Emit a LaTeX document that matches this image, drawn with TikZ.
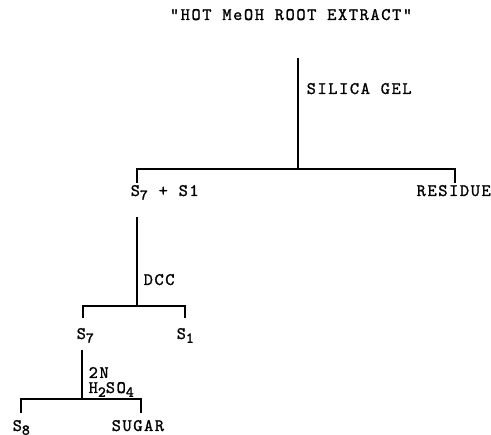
\documentclass[tikz,border=0pt]{standalone}
\usepackage{fontspec}
\setmonofont{Latin Modern Mono}[LetterSpace=9,FakeBold=1.2]
\usepackage{tikz}
\usetikzlibrary{positioning}

\newcommand{\lowsub}[1]{\raisebox{-0.5ex}{\fontsize{8.6}{10}\selectfont #1}}
\tikzset{lbl/.style={anchor=base west,inner sep=0pt,font=\ttfamily\fontsize{10}{12}\selectfont}}

\begin{document}
\begin{tikzpicture}[x=0.02cm,y=-0.02cm,thick]
\useasboundingbox (0,0) rectangle (491,435);
% products
\node [lbl,anchor=base] (extract) at (291,20) {"HOT MeOH ROOT EXTRACT"};
\node [lbl] (mix) at (130,196) {S\lowsub{7} + S1};
\node [lbl] (residue) at (416,196) {RESIDUE};
\node [lbl] (s7) at (76,339) {S\lowsub{7}};
\node [lbl] (s1) at (176,339) {S\lowsub{1}};
\node [lbl] (s8) at (12,431) {S\lowsub{8}};
\node [lbl] (sugar) at (111,431) {SUGAR};
% reagents
\node [lbl] (silica) at (306,94) {SILICA GEL};
\node [lbl] (dcc) at (143,285) {DCC};
\node [lbl] (normal) at (88,378) {2N};
\node [lbl] (acid) at (88,393) {H\lowsub{2}SO\lowsub{4}};
% stems and brackets
\foreach\i/\x/\ya/\yb/\xl/\xr/\yc in {1/298/58/169/137/455/183,2/137/217/306/83/185/318,3/82/350/399/21/141/413}
{
  \coordinate (top\i) at (\x,\ya);
  \coordinate (split\i) at (\x,\yb);
  \coordinate (left\i) at (\xl,\yc);
  \coordinate (right\i) at (\xr,\yc);
  \draw (top\i) -- (split\i);
  \draw (left\i) |- (split\i) -| (right\i);
}
\end{tikzpicture}
\end{document}
